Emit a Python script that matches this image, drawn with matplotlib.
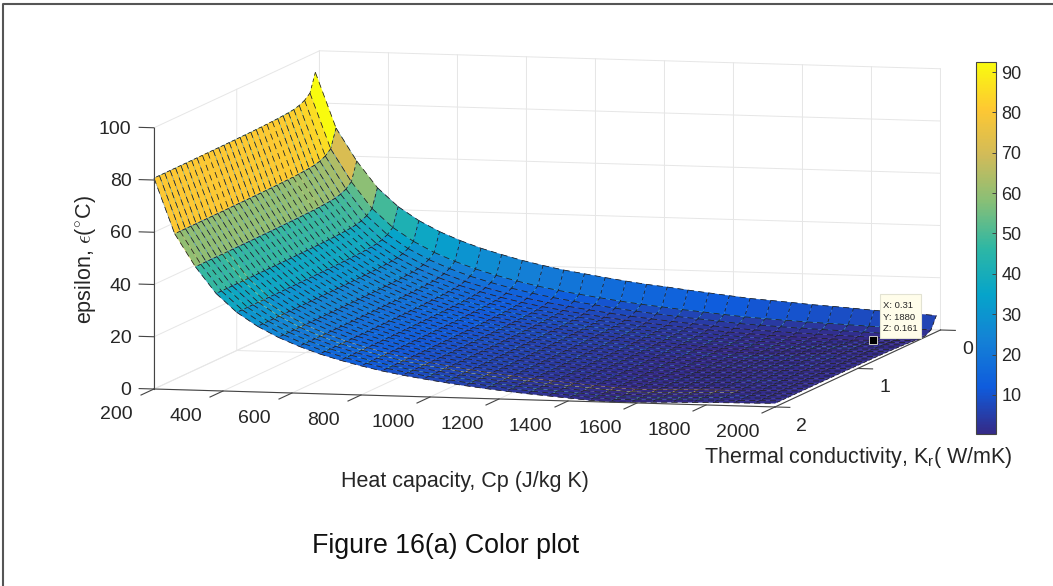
#!/usr/bin/env python3
"""Figure 16(a): epsilon surface over thermal conductivity and heat capacity."""
import numpy as np
import matplotlib
matplotlib.use("Agg")
import matplotlib.pyplot as plt
from matplotlib import cm
from matplotlib.colors import LinearSegmentedColormap, Normalize
from matplotlib.lines import Line2D
from matplotlib.patches import Rectangle
from mpl_toolkits.mplot3d import proj3d
from mpl_toolkits.mplot3d.art3d import Line3DCollection

W, H = 1053, 586
TXT = "#262626"
AXC = "#444444"
GRID = "#e6e6e6"

plt.rcParams.update({
    "font.family": "Liberation Sans",
    "mathtext.fontset": "custom",
    "mathtext.rm": "Liberation Sans",
    "mathtext.it": "Liberation Sans:italic",
})

# grid of the surface
kr = [0.05, 0.115, 0.18, 0.245, 0.31, 0.375, 0.44, 0.505, 0.57, 0.635, 0.7,
      0.765, 0.83, 0.895, 0.96, 1.025, 1.09, 1.155, 1.22, 1.285, 1.35, 1.415,
      1.48, 1.545, 1.61, 1.675, 1.74, 1.805, 1.87, 1.935, 2.0]
cp = [200, 260, 320, 380, 440, 500, 560, 620, 680, 740, 800, 860, 920, 980,
      1040, 1100, 1160, 1220, 1280, 1340, 1400, 1460, 1520, 1580, 1640, 1700,
      1760, 1820, 1880, 1940, 2000]
# signed level along the Cp direction
eps_cp = [80.5, 59.4, 47.0, 37.0, 30.0, 24.9, 20.9, 17.7, 15.0, 12.8, 10.9,
          9.2, 7.8, 6.6, 5.5, 4.5, 3.6, 2.8, 2.1, 1.5, 0.9, 0.3, -0.1, -0.4,
          -0.65, -0.85, -1.0, -1.18, -1.29, -1.4, -1.55]
# rise towards small Kr
eps_kr = [12.0, 5.0, 3.2, 2.2, 1.61, 1.33, 1.14, 0.99, 0.88, 0.79, 0.71, 0.65,
          0.6, 0.56, 0.52, 0.49, 0.46, 0.43, 0.41, 0.39, 0.37, 0.35, 0.34,
          0.32, 0.31, 0.3, 0.29, 0.28, 0.27, 0.26, 0.25]
# how much of that rise is left at each Cp
rise_cp = [1.0, 1.0, 1.0, 1.0, 1.0, 1.0, 1.0, 1.0, 1.0, 1.0, 0.99, 0.99, 0.98,
           0.98, 0.97, 0.96, 0.95, 0.95, 0.93, 0.91, 0.89, 0.87, 0.86, 0.84,
           0.81, 0.79, 0.76, 0.73, 0.7, 0.68, 0.65]

cp_ticks = [200, 400, 600, 800, 1000, 1200, 1400, 1600, 1800, 2000]
kr_ticks = [0, 1, 2]
z_ticks = [0, 20, 40, 60, 80, 100]
cbar_ticks = [10, 20, 30, 40, 50, 60, 70, 80, 90]
tip = (0.31, 1880, 0.161)

parula = LinearSegmentedColormap.from_list("parula", [
    "#352a87", "#0f5cdd", "#1481d6", "#06a4ca", "#2eb7a4",
    "#87bf77", "#d1bb59", "#fec832", "#f9fb0e"], N=256)
norm = Normalize(0.3, 92.5)


def px(x, y):
    return x / W, 1 - y / H


def place(ax, left, right):
    # resize the square 3d axes so two floor corners land on the wanted pixels
    ax.apply_aspect()
    M = ax.get_proj()
    xa, ya, _ = proj3d.proj_transform(*left[0], M)
    xb, yb, _ = proj3d.proj_transform(*right[0], M)
    pa, pb = ax.transData.transform([(xa, ya), (xb, yb)])
    u, v = ax.transAxes.inverted().transform(pa)
    size = ax.get_window_extent().width * (right[1][0] - left[1][0]) / (pb[0] - pa[0])
    l = left[1][0] - u * size
    b = (H - left[1][1]) - v * size
    ax.set_position([l / W, b / H, size / W, size / H])


fig = plt.figure(figsize=(W / 100, H / 100), dpi=100, facecolor="white")
ax = fig.add_axes([0, 0, 1, 1], projection="3d", computed_zorder=False)
ax.set_proj_type("ortho")
ax.view_init(elev=6.66, azim=14)
ax.set_box_aspect((684, 640, 263))
ax.set_xlim(0, 2)
ax.set_ylim(200, 2000)
ax.set_zlim(0, 100)
ax.set_axis_off()
place(ax, ((2, 200, 0), (154, 389)), ((2, 2000, 0), (775, 407)))

# back walls and floor grid
for z in z_ticks:
    ax.plot([2, 0, 0], [200, 200, 2000], [z, z, z], color=GRID, lw=0.7, zorder=1)
for c in cp_ticks:
    ax.plot([2, 0, 0], [c, c, c], [0, 0, 100], color=GRID, lw=0.7, zorder=1)
for k in kr_ticks:
    ax.plot([k, k, k], [2000, 200, 200], [0, 0, 100], color=GRID, lw=0.7, zorder=1)

# surface, faces coloured from their first corner
Y, X = np.meshgrid(cp, kr, indexing="ij")
Z = np.abs(np.array(eps_cp)[:, None]
           + np.array(rise_cp)[:, None] * np.array(eps_kr)[None, :])
surf = ax.plot_surface(X, Y, Z, rstride=1, cstride=1, shade=False,
                       facecolors=parula(norm(Z)), linewidth=0.2, zorder=2)
surf.set_edgecolor("face")

# cell edges one by one, so the dash pattern restarts on every edge
P = np.stack([X, Y, Z], axis=-1)
cp_edges = []
kr_edges = []
for i in range(len(cp)):
    for j in range(len(kr)):
        if i + 1 < len(cp):
            cp_edges.append([P[i, j], P[i + 1, j]])
        if j + 1 < len(kr):
            kr_edges.append([P[i, j], P[i, j + 1]])
ax.add_collection3d(Line3DCollection(cp_edges, colors="#1c1c1c", linewidths=0.55,
                                     linestyles=[(0, (8, 5.5))], zorder=2.5))
ax.add_collection3d(Line3DCollection(kr_edges, colors="#1c1c1c", linewidths=0.55,
                                     linestyles=[(0, (4.5, 4))], zorder=2.5))

# axis rulers
ax.plot([2, 2], [200, 2000], [0, 0], color=AXC, lw=0.8, zorder=3)
ax.plot([2, 0], [2000, 2000], [0, 0], color=AXC, lw=0.8, zorder=3)
ax.plot([2, 2], [200, 200], [0, 100], color=AXC, lw=0.8, zorder=3)
for c in cp_ticks:
    ax.plot([2, 2.157], [c, c], [0, 0], color=AXC, lw=0.8, zorder=3)
    ax.text(2.45, c, -3.3, str(c), fontsize=14, color=TXT, ha="center", va="center", zorder=4)
for k in kr_ticks:
    ax.plot([k, k], [2000, 2043], [0, 0], color=AXC, lw=0.8, zorder=3)
    ax.text(k, 2078, -7, str(k), fontsize=14, color=TXT, ha="center", va="center", zorder=4)
for z in z_ticks:
    ax.plot([2, 2], [200, 157], [z, z], color=AXC, lw=0.8, zorder=3)
    ax.text(2, 135, z - 0.9, str(z), fontsize=14, color=TXT, ha="right", va="center", zorder=4)

ax.plot([tip[0]], [tip[1]], [tip[2]], "s", color="black", mec="#e8e8d8", mew=0.6,
        ms=5.5, zorder=5)

# labels
fig.text(*px(465, 482), "Heat capacity, Cp (J/kg K)", fontsize=15.5, color=TXT,
         ha="center", va="center")
fig.text(*px(858, 458), r"Thermal conductivity, K$_{\mathrm{r}}$( W/mK)", fontsize=15.5,
         color=TXT, ha="center", va="center")
fig.text(*px(86, 259), r"epsilon, $\epsilon$($^{\circ}$C)", fontsize=15.5, color=TXT,
         rotation=90, ha="center", va="center", math_fontfamily="cm")
fig.text(*px(446, 546), "Figure 16(a) Color plot", fontsize=19.3, color="#111111",
         ha="center", va="center")

# data tip
fig.add_artist(Rectangle(px(880, 338), 41 / W, 44 / H, transform=fig.transFigure,
                         fc="#fffdea", ec="#e2e2d2", lw=0.8, zorder=6))
fig.text(*px(883, 317), f"X: {tip[0]}\nY: {tip[1]}\nZ: {tip[2]}", fontsize=6.8,
         color=TXT, ha="left", va="center", linespacing=1.35, zorder=7)

# colorbar
cax = fig.add_axes([976 / W, 1 - 434 / H, 20 / W, 372 / H])
cbar = fig.colorbar(cm.ScalarMappable(norm=norm, cmap=parula), cax=cax, ticks=cbar_ticks)
cbar.ax.tick_params(direction="in", length=3, width=0.7, color=AXC, labelsize=13,
                    labelcolor=TXT, pad=4)
cbar.outline.set_edgecolor(AXC)
cbar.outline.set_linewidth(0.8)

# outer frame, only the left and top sides
fig.add_artist(Line2D([3 / W, 3 / W, 1], [0, 1 - 3.5 / H, 1 - 3.5 / H],
                      transform=fig.transFigure, color="#555555", lw=1.5, zorder=10))

fig.savefig("out.png", dpi=100, facecolor="white")
